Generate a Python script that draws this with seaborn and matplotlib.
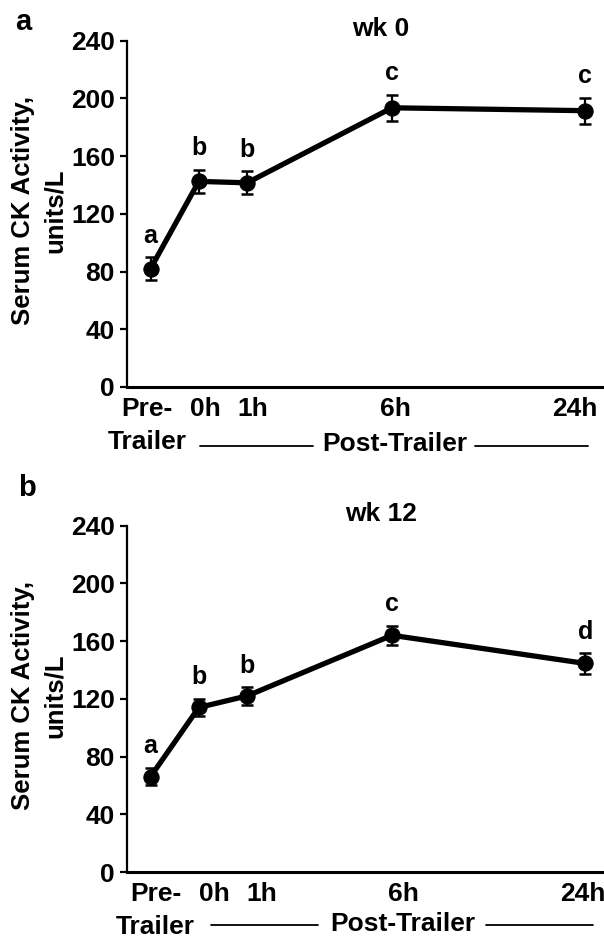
import matplotlib
matplotlib.use("Agg")
import matplotlib.pyplot as plt
import matplotlib.transforms as mtransforms
import seaborn as sns
import pandas as pd

# Sampling times and their spacing along the time axis
time_labels = ["Pre-\nTrailer", "0h", "1h", "6h", "24h"]
time_pos = [0, 1, 2, 5, 9]

# Serum CK activity (units/L), mean and SE
wk0_mean = [82, 142.5, 141.5, 193.5, 191.5]
wk0_se = [8, 8, 8, 9, 9]
wk0_letters = ["a", "b", "b", "c", "c"]

wk12_mean = [66, 114, 122, 164, 144.5]
wk12_se = [6, 6, 6, 6.5, 7]
wk12_letters = ["a", "b", "b", "c", "d"]

panels = [
    dict(tag="a", title="wk 0", mean=wk0_mean, se=wk0_se, letters=wk0_letters),
    dict(tag="b", title="wk 12", mean=wk12_mean, se=wk12_se, letters=wk12_letters),
]

sns.set_theme(style="ticks")
plt.rcParams["font.family"] = ["Liberation Sans", "DejaVu Sans"]
plt.rcParams["font.weight"] = "bold"
plt.rcParams["axes.labelweight"] = "bold"
plt.rcParams["axes.titleweight"] = "bold"
plt.rcParams["text.color"] = "black"

W, H = 604, 940
fig = plt.figure(figsize=(W / 100, H / 100), dpi=100)

# axes rectangles in pixels: left, top, right, bottom
rects = [(126.7, 40.7, 604, 387.0), (126.7, 525.6, 604, 872.0)]
tag_xy = [(23.5, 22.5), (27, 488)]
label_shift = [[-3.5, 7, 6, 3, -10.7], [5, 15.5, 14.5, 11.5, -2.2]]
bracket = [
    dict(text_x=5.06, y=-0.166, left=(1.025, 3.364), right=(6.72, 9.06)),
    dict(text_x=5.22, y=-0.150, left=(1.25, 3.47), right=(6.95, 9.16)),
]

for i, p in enumerate(panels):
    l, t, r, b = rects[i]
    ax = fig.add_axes([l / W, 1 - b / H, (r - l) / W, (b - t) / H])

    df = pd.DataFrame({"pos": time_pos, "mean": p["mean"], "se": p["se"]})
    ax.errorbar(df["pos"], df["mean"], yerr=df["se"], fmt="none",
                ecolor="black", elinewidth=1.6, capsize=4, capthick=1.8,
                zorder=3)
    sns.lineplot(data=df, x="pos", y="mean", ax=ax, color="black",
                 linewidth=3.8, marker="o", markersize=11,
                 markeredgecolor="black", markerfacecolor="black",
                 zorder=4, clip_on=False)

    for x, m, s, let in zip(df["pos"], df["mean"], df["se"], p["letters"]):
        ax.annotate(let, xy=(x, m + s), xytext=(0, 10.5),
                    textcoords="offset points", ha="center", va="baseline",
                    fontsize=18, fontweight="bold", color="black")

    ax.set_xlim(-0.493, 9.389)
    ax.set_ylim(0, 240)
    ax.set_yticks(range(0, 241, 40))
    ax.set_xticks(time_pos)
    ax.set_xticklabels(time_labels, linespacing=1.45)
    ax.tick_params(axis="y", direction="out", length=5, width=1.6,
                   labelsize=19, pad=3.5, colors="black")
    ax.tick_params(axis="x", length=0, labelsize=19, pad=7.5,
                   colors="black")
    for lab, dx in zip(ax.get_xticklabels(), label_shift[i]):
        lab.set_fontweight("bold")
        lab.set_transform(lab.get_transform() + mtransforms.ScaledTranslation(
            dx / 100, 0, fig.dpi_scale_trans))
    for lab in ax.get_yticklabels():
        lab.set_fontweight("bold")

    sns.despine(ax=ax)
    ax.spines["left"].set_linewidth(1.6)
    ax.spines["bottom"].set_linewidth(2.2)
    ax.spines["left"].set_color("black")
    ax.spines["bottom"].set_color("black")

    ax.set_xlabel("")
    ax.set_ylabel("Serum CK Activity,\nunits/L", fontsize=18.5,
                  fontweight="bold", linespacing=1.4, color="black")
    ax.yaxis.label.set_verticalalignment("center")
    ax.yaxis.set_label_coords(-0.184, 0.51)

    ax.set_title(p["title"], fontsize=19, fontweight="bold", x=0.533,
                 pad=0.5, color="black")

    # group label for the post-trailer sampling times
    bk = bracket[i]
    xt = ax.get_xaxis_transform()
    ax.text(bk["text_x"], bk["y"], "Post-Trailer", transform=xt, ha="center",
            va="center", fontsize=19, fontweight="bold", color="black")
    for seg in (bk["left"], bk["right"]):
        ax.plot(seg, [bk["y"] - 0.004] * 2, transform=xt, color="black",
                linewidth=1.3, clip_on=False)

    fig.text(tag_xy[i][0] / W, 1 - tag_xy[i][1] / H, p["tag"], fontsize=21,
             fontweight="bold", ha="center", va="center", color="black")

fig.savefig("out.png", dpi=100)
